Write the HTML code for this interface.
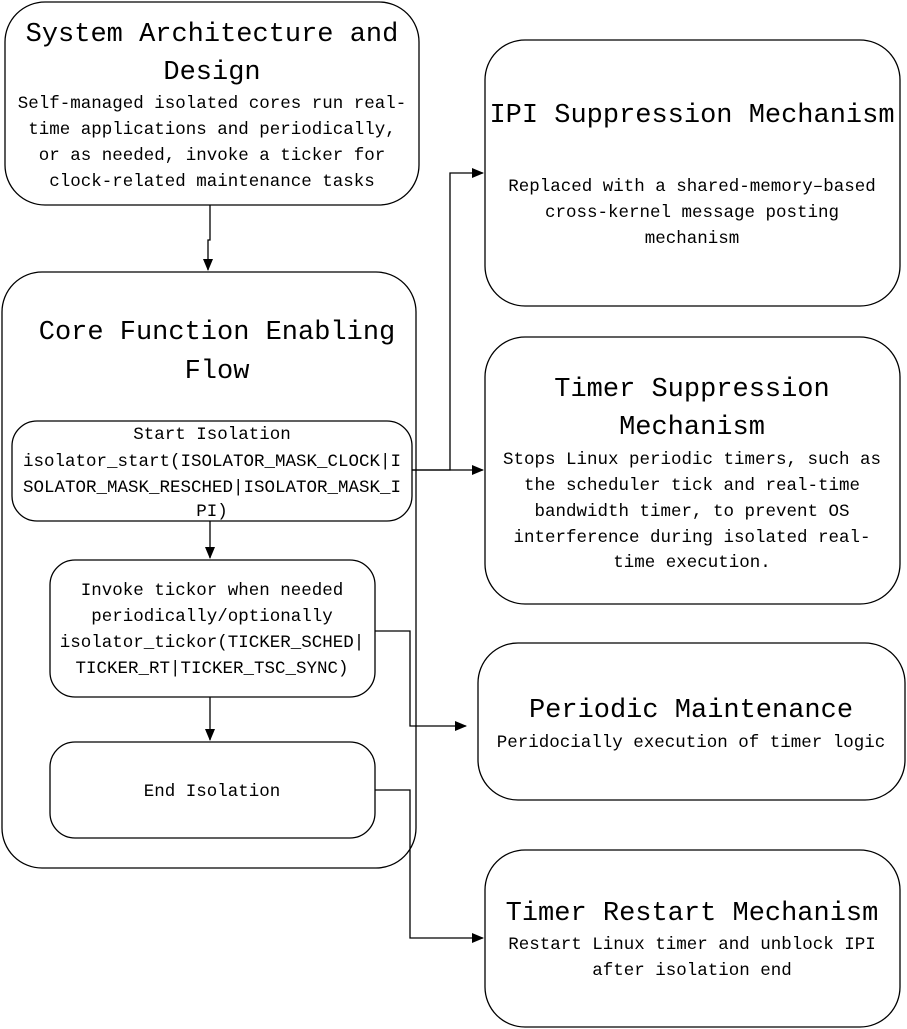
<!DOCTYPE html>
<html><head><meta charset="utf-8"><style>
html,body{margin:0;padding:0;background:#fff;}
svg{display:block;}
text{font-family:"Liberation Mono","Noto Sans CJK SC",monospace;fill:#000;text-anchor:middle;}
.t{font-size:27px;}
.b{font-size:17.5px;}
</style></head><body>
<svg width="907" height="1029" viewBox="0 0 907 1029" xmlns="http://www.w3.org/2000/svg">
<defs><marker id="a" markerWidth="12" markerHeight="10" refX="11" refY="5" orient="auto" markerUnits="userSpaceOnUse"><path d="M0,0 L12,5 L0,10 z" fill="#000"/></marker></defs>
<g fill="none" stroke="#000" stroke-width="1.3">
<rect x="5" y="2" width="414" height="203" rx="40"/>
<rect x="2" y="272" width="414" height="596" rx="40"/>
<rect x="12" y="421" width="400" height="100" rx="25"/>
<rect x="50" y="560" width="325" height="137" rx="25"/>
<rect x="50" y="742" width="325" height="96" rx="25"/>
<rect x="485" y="40" width="415" height="266" rx="40"/>
<rect x="485" y="337" width="415" height="267" rx="40"/>
<rect x="478" y="643" width="427" height="157" rx="40"/>
<rect x="485" y="850" width="415" height="177" rx="40"/>
<path d="M210,205 V240 H208 V270" marker-end="url(#a)"/>
<path d="M210,521 V558" marker-end="url(#a)"/>
<path d="M210,697 V740" marker-end="url(#a)"/>
<path d="M412,470 H450 V173 H483" marker-end="url(#a)"/>
<path d="M412,470 H483" marker-end="url(#a)"/>
<path d="M375,631 H410 V726 H466" marker-end="url(#a)"/>
<path d="M375,790 H410 V938 H483" marker-end="url(#a)"/>
</g>
<text class="t" x="212" y="41">System Architecture and</text>
<text class="t" x="212" y="79">Design</text>
<text class="b" x="212" y="108">Self-managed isolated cores run real-</text>
<text class="b" x="212" y="134">time applications and periodically,</text>
<text class="b" x="212" y="160">or as needed, invoke a ticker for</text>
<text class="b" x="212" y="186">clock-related maintenance tasks</text>
<text class="t" x="217" y="339">Core Function Enabling</text>
<text class="t" x="217" y="378">Flow</text>
<text class="b" x="212" y="439">Start Isolation</text>
<text class="b" x="212" y="466">isolator_start(ISOLATOR_MASK_CLOCK|I</text>
<text class="b" x="212" y="492">SOLATOR_MASK_RESCHED|ISOLATOR_MASK_I</text>
<text class="b" x="212" y="516">PI)</text>
<text class="b" x="212" y="595">Invoke tickor when needed</text>
<text class="b" x="212" y="621">periodically/optionally</text>
<text class="b" x="212" y="647">isolator_tickor(TICKER_SCHED|</text>
<text class="b" x="212" y="673">TICKER_RT|TICKER_TSC_SYNC)</text>
<text class="b" x="212" y="796">End Isolation</text>
<text class="t" x="692" y="122">IPI Suppression Mechanism</text>
<text class="b" x="692" y="191">Replaced with a shared-memory–based</text>
<text class="b" x="692" y="217">cross-kernel message posting</text>
<text class="b" x="692" y="243">mechanism</text>
<text class="t" x="692" y="396">Timer Suppression</text>
<text class="t" x="692" y="434">Mechanism</text>
<text class="b" x="692" y="464">Stops Linux periodic timers, such as</text>
<text class="b" x="692" y="490">the scheduler tick and real-time</text>
<text class="b" x="692" y="516">bandwidth timer, to prevent OS</text>
<text class="b" x="692" y="542">interference during isolated real-</text>
<text class="b" x="692" y="567">time execution.</text>
<text class="t" x="691" y="717">Periodic Maintenance</text>
<text class="b" x="691" y="747">Peridocially execution of timer logic</text>
<text class="t" x="692" y="920">Timer Restart Mechanism</text>
<text class="b" x="692" y="949">Restart Linux timer and unblock IPI</text>
<text class="b" x="692" y="975">after isolation end</text>
</svg>
</body></html>
